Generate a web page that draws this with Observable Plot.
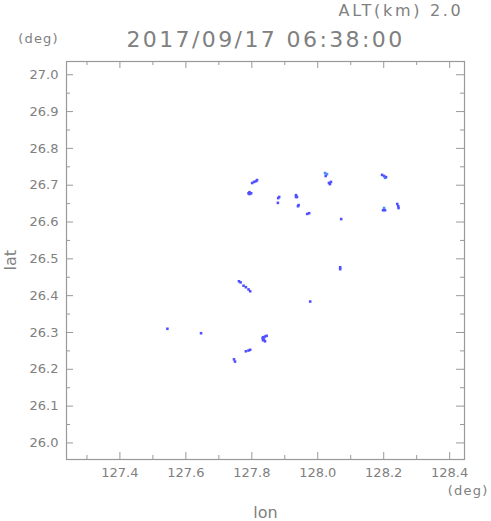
<!DOCTYPE html>
<html>
<head>
<meta charset="utf-8">
<script src="https://cdn.jsdelivr.net/npm/d3@7"></script>
<script src="https://cdn.jsdelivr.net/npm/@observablehq/plot@0.6"></script>
<style>
  html, body { margin: 0; padding: 0; background: #fff; }
</style>
</head>
<body>
<div id="chart"></div>
<script>
// ---- data ----
const titleText = "2017/09/17 06:38:00";
const altText = "ALT(km) 2.0";
const unitText = "(deg)";
const xLabel = "lon";
const yLabel = "lat";

const lonTicks = [127.4, 127.6, 127.8, 128.0, 128.2, 128.4];
const lonMinor = [127.3, 127.5, 127.7, 127.9, 128.1, 128.3];
const latTicks = [26.0, 26.1, 26.2, 26.3, 26.4, 26.5, 26.6, 26.7, 26.8, 26.9, 27.0];
const latMinor = [26.05, 26.15, 26.25, 26.35, 26.45, 26.55, 26.65, 26.75, 26.85, 26.95];

const echoLon = [
  127.801, 127.807, 127.813, 127.816,
  127.793, 127.793, 127.790, 127.798,
  128.022, 128.028, 128.024,
  128.034, 128.040, 128.037,
  127.880, 127.883,
  127.879,
  127.934, 127.937, 127.934,
  127.940, 127.942,
  127.968, 127.974,
  128.071,
  128.195, 128.201, 128.204, 128.207,
  128.201, 128.204, 128.198,
  128.241, 128.244, 128.245,
  127.761, 127.766,
  127.775, 127.782, 127.790, 127.795,
  128.068, 128.068,
  127.977,
  127.834, 127.840, 127.845, 127.837, 127.840, 127.833, 127.834,
  127.782, 127.790, 127.795,
  127.746, 127.749,
  127.544,
  127.646
];
const echoLat = [
  26.706, 26.709, 26.711, 26.714,
  26.681, 26.676, 26.678, 26.678,
  26.733, 26.730, 26.725,
  26.706, 26.709, 26.703,
  26.665, 26.668,
  26.652,
  26.673, 26.668, 26.668,
  26.643, 26.646,
  26.622, 26.624,
  26.608,
  26.728, 26.725, 26.720, 26.722,
  26.638, 26.632, 26.632,
  26.649, 26.643, 26.638,
  26.439, 26.436,
  26.427, 26.423, 26.417, 26.412,
  26.477, 26.472,
  26.384,
  26.287, 26.289, 26.291, 26.281, 26.276, 26.284, 26.279,
  26.249, 26.251, 26.253,
  26.227, 26.221,
  26.310,
  26.298
];
const echoLevel = [
  1, 1, 1, 1,
  1, 1, 1, 1,
  2, 2, 1,
  1, 1, 1,
  1, 1,
  1,
  1, 1, 1,
  1, 1,
  1, 1,
  1,
  1, 1, 2, 1,
  2, 1, 1,
  1, 1, 1,
  1, 1,
  1, 1, 1, 1,
  1, 1,
  1,
  1, 1, 1, 1, 1, 1, 1,
  1, 1, 1,
  1, 1,
  1,
  1
];

const echoes = echoLon.map((lon, i) => ({lon, lat: echoLat[i], level: echoLevel[i]}));

const gray = "#999";
const txt = "#808080";
const fmt = d => d.toFixed(1);

const chart = Plot.plot({
  width: 491,
  height: 521,
  marginTop: 61,
  marginRight: 27,
  marginBottom: 62,
  marginLeft: 66,
  x: {domain: [127.238, 128.445]},
  y: {domain: [25.955, 27.036]},
  color: {type: "ordinal", domain: [1, 2], range: ["#4f4fff", "#4a8cff"]},
  style: {fontFamily: "'DejaVu Sans', sans-serif", fontSize: "13px", color: txt, background: "#fff"},
  marks: [
    Plot.frame({stroke: gray, strokeWidth: 1.2}),
    // bottom ticks
    Plot.ruleX(lonTicks, {stroke: gray, insetTop: 391}),
    Plot.ruleX(lonMinor, {stroke: gray, insetTop: 394}),
    // top ticks
    Plot.ruleX(lonTicks, {stroke: gray, insetBottom: 391}),
    Plot.ruleX(lonMinor, {stroke: gray, insetBottom: 394}),
    // left ticks
    Plot.ruleY(latTicks, {stroke: gray, insetRight: 391}),
    Plot.ruleY(latMinor, {stroke: gray, insetRight: 394}),
    // right ticks
    Plot.ruleY(latTicks, {stroke: gray, insetLeft: 390}),
    Plot.ruleY(latMinor, {stroke: gray, insetLeft: 394}),
    Plot.axisX(lonTicks, {anchor: "bottom", tickSize: 0, tickPadding: 8, tickFormat: fmt, label: null, fontSize: 13}),
    Plot.axisY(latTicks, {anchor: "left", tickSize: 0, tickPadding: 8, tickFormat: fmt, label: null, fontSize: 13}),
    Plot.dot(echoes, {x: "lon", y: "lat", fill: "level", symbol: "square", r: 1.45}),
    Plot.text([titleText], {frameAnchor: "top", dy: -14.5, lineAnchor: "bottom", fontSize: 22, fill: txt}),
    Plot.text([altText], {frameAnchor: "top-right", textAnchor: "end", dx: -1, dy: -46, lineAnchor: "bottom", fontSize: 16, fill: txt}),
    Plot.text([unitText], {frameAnchor: "top-left", textAnchor: "middle", dx: -28, dy: -19, lineAnchor: "bottom", fontSize: 13, fill: txt}),
    Plot.text([unitText], {frameAnchor: "bottom-right", textAnchor: "end", dx: 24, dy: 35, lineAnchor: "bottom", fontSize: 13, fill: txt}),
    Plot.text([xLabel], {frameAnchor: "bottom", dy: 58, lineAnchor: "bottom", fontSize: 16, fill: txt}),
    Plot.text([yLabel], {frameAnchor: "left", dx: -56, dy: 10, rotate: -90, lineAnchor: "middle", fontSize: 16, fill: txt})
  ]
});

const spacing = {[titleText]: "2.4px", [altText]: "2.7px", [unitText]: "1.2px"};
d3.select(chart).selectAll("text")
  .filter(function() { return spacing[this.textContent] !== undefined; })
  .style("letter-spacing", function() { return spacing[this.textContent]; });

document.getElementById("chart").appendChild(chart);
</script>
</body>
</html>
